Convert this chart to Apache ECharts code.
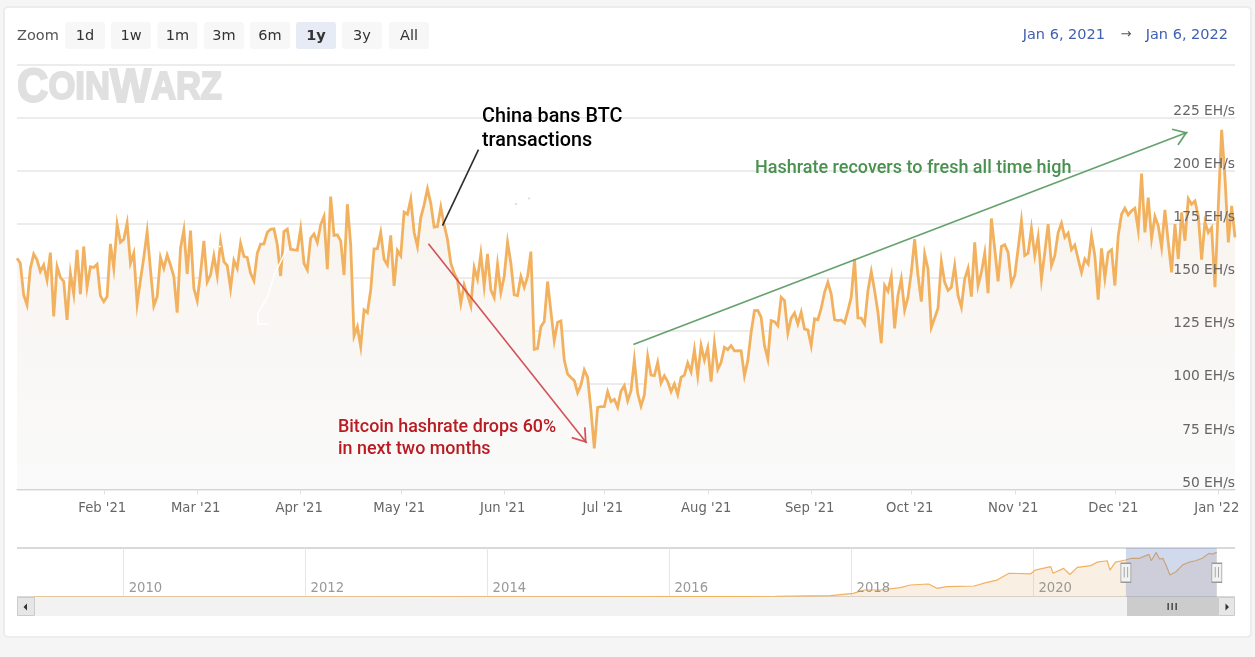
<!DOCTYPE html>
<html><head><meta charset="utf-8">
<style>
html,body{margin:0;padding:0;width:1255px;height:657px;background:#f5f5f5;overflow:hidden}
#card{position:absolute;left:3px;top:6px;width:1245px;height:628px;background:#fff;border:2px solid #ececec;border-radius:5px}
#c{position:absolute;left:0;top:0;width:1255px;height:657px}
</style>
<script src="https://cdn.jsdelivr.net/npm/echarts@6/dist/echarts.min.js"></script>
</head><body><div id="card"></div><div id="c"></div>
<script>
const startDate = '2021-01-06';
const endDate = '2022-01-06';
const hashrate = [
159.0,156.6,141.7,137.0,154.2,160.9,158.2,152.7,155.8,148.7,161.6,131.5,155.0,150.0,148.0,129.9,151.9,142.1,162.9,142.0,
164.5,145.3,155.0,154.6,156.1,141.2,138.5,140.9,165.7,154.2,175.0,166.5,167.9,175.5,156.6,161.3,137.4,148.7,159.4,171.5,
153.5,136.5,140.9,159.3,154.2,160.5,155.8,150.3,133.3,163.7,172.3,151.6,172.0,144.8,139.0,151.9,167.1,147.8,151.1,160.1,
150.8,166.8,157.4,155.5,144.7,157.9,154.2,166.0,159.8,159.3,151.9,148.4,161.3,165.6,165.7,171.2,172.6,172.8,165.3,150.6,
171.5,172.6,163.2,162.9,162.7,172.8,156.6,153.5,168.4,170.4,166.4,174.7,
178.6,153.8,188.0,169.7,170.0,167.1,151.1,184.4,165.3,122.3,126.7,117.3,134.6,133.3,144.0,163.4,163.5,171.1,158.5,155.8,
169.7,145.9,162.6,160.1,180.7,179.7,186.8,171.2,164.5,178.1,184.1,191.7,184.9,173.6,173.9,183.0,174.7,167.9,156.6,151.9,
148.7,137.7,146.4,141.7,136.5,154.6,149.2,161.0,145.9,161.0,144.0,140.4,156.1,142.9,150.3,166.5,156.6,141.7,141.4,150.3,
145.3,150.3,162.1,116.0,116.5,126.7,129.1,148.0,133.8,120.1,128.8,129.4,111.0,104.4,102.8,101.3,95.6,99.2,106.3,102.8,
87.4,69.4,88.7,89.0,89.0,96.1,91.4,92.5,88.7,96.4,98.9,91.8,96.6,111.0,95.3,89.3,
94.5,112.7,103.9,103.6,109.9,100.2,103.6,100.8,96.1,99.7,94.7,102.8,103.9,109.6,105.5,115.9,103.6,117.8,111.0,116.7,
100.8,119.0,106.5,109.9,117.0,115.9,117.8,115.3,115.4,115.3,103.6,110.7,124.1,134.3,134.4,131.1,117.8,111.5,129.6,129.1,
127.2,140.6,139.0,123.7,130.8,133.2,128.0,133.5,125.6,125.2,117.8,130.4,130.0,135.4,142.9,147.6,142.1,130.0,129.6,129.9,
128.5,134.3,140.6,158.6,130.8,130.7,128.0,143.7,152.7,143.7,133.5,118.9,146.1,143.4,150.5,125.9,141.4,149.2,134.6,140.6,
152.4,168.0,150.8,138.5,161.0,153.9,126.4,130.8,135.4,157.4,
147.7,143.8,145.3,155.5,141.4,135.9,149.2,154.2,140.9,166.4,146.1,152.3,161.4,142.5,177.7,163.3,148.1,164.5,165.3,161.7,
146.9,150.8,163.3,176.6,160.2,161.3,173.0,160.2,169.1,149.2,161.7,175.0,155.5,160.2,171.1,175.5,168.8,170.8,163.0,165.2,
158.6,152.3,158.6,156.3,169.5,160.2,139.5,163.6,149.7,161.7,163.0,146.1,169.5,179.7,182.5,179.4,181.3,182.5,
172.3,198.9,171.1,187.5,168.3,178.6,174.2,164.1,181.7,166.4,152.3,175.0,158.6,180.5,167.2,187.0,184.4,185.9,178.9,158.3,
176.1,171.1,173.4,145.3,183.6,219.5,196.9,166.4,183.6,168.8
];
const xTickDates = ['2021-02-01','2021-03-01','2021-04-01','2021-05-01','2021-06-01','2021-07-01','2021-08-01','2021-09-01','2021-10-01','2021-11-01','2021-12-01','2022-01-01'];
const xTickLabels = ["Feb '21","Mar '21","Apr '21","May '21","Jun '21","Jul '21","Aug '21","Sep '21","Oct '21","Nov '21","Dec '21","Jan '22"];
const yTicks = [50,75,100,125,150,175,200,225];
const navDates = ['2009-01-03','2012-01-01','2014-01-01','2015-06-01','2016-06-01','2017-03-01','2017-10-08','2018-01-08','2018-02-20','2018-04-25','2018-07-15','2018-08-25','2018-11-06','2018-12-10','2019-01-18','2019-05-08','2019-06-28','2019-08-08','2019-09-25','2019-12-20','2020-01-08','2020-03-10','2020-03-20','2020-05-01','2020-05-26','2020-06-25','2020-08-18','2020-09-12','2020-10-23','2020-11-03','2020-11-25','2021-01-05','2021-01-28','2021-03-02','2021-03-22','2021-04-09','2021-04-18','2021-05-08','2021-05-21','2021-06-03','2021-06-16','2021-07-02','2021-07-26','2021-08-22','2021-09-17','2021-10-13','2021-11-09','2021-12-05','2021-12-19','2022-01-06'];
const navValues = [0,0.1,0.3,0.6,1.5,3,5.4,15,28.6,28.6,38,49,53,35.4,42,45,60,69,97,94,110,124,97,117,92,121,128,142,148,110,142,151,158,158,167,174,148,182,155,158,131,90,103,131,142,148,158,178,175,182];
const navYearDates = ['2010-01-01','2012-01-01','2014-01-01','2016-01-01','2018-01-01','2020-01-01'];
const navYearLabels = ['2010','2012','2014','2016','2018','2020'];
const zoomButtons = ['1d','1w','1m','3m','6m','1y','3y','All'];
const redArrow = [['2021-05-09T07:00',165.8],['2021-06-25T17:00',71.9]];
const greenArrow = [['2021-07-09T17:00',118.3],['2021-12-22T19:00',218.3]];
const blackLeader = [['2021-05-13T12:00',174.3],['2021-05-24T07:00',210.1]];

const ts = s => new Date(s.length === 10 ? s + 'T00:00' : s).getTime();
const t0 = ts(startDate);
const navMin = ts('2008-10-30'), navMax = ts('2022-03-20');
const mainData = hashrate.map((v, i) => [new Date(2021, 0, 6 + i).getTime(), v]);
const navData = navDates.map((d, i) => [ts(d), navValues[i]]);
const labelMap = {}; xTickDates.forEach((d, i) => labelMap[ts(d)] = xTickLabels[i]);
const yearMap = {}; navYearDates.forEach((d, i) => yearMap[ts(d)] = navYearLabels[i]);
// open arrow head, tip at the symbol centre (the tiny first triangle balances the bounding box)
const chevron = 'path://M0,-14.2 L0.02,-14.2 L0,-14.18 Z M0,0 L11,13 L9.4,14.2 L0,3 L-9.4,14.2 L-11,13 Z';
const FONT = '"DejaVu Sans"';
const arrowLine = (pts, color, head) => ({
  type: 'line', data: [], xAxisIndex: 0, yAxisIndex: 0, z: 10, silent: true,
  markLine: { z: 12, silent: true, animation: false, label: { show: false }, emphasis: { disabled: true },
    lineStyle: { color, width: 1.6, type: 'solid', opacity: 0.95 },
    data: [[{ coord: [ts(pts[0][0]), pts[0][1]], symbol: 'none' },
            { coord: [ts(pts[1][0]), pts[1][1]], symbol: head ? chevron : 'none', symbolSize: [18, 28] }]] }
});

// Zoom buttons
const btnX = [65, 111, 157.5, 204, 250, 296, 342, 389];
const g = [];
g.push({ type: 'text', z: 50, style: { text: 'Zoom', x: 17, y: 36, font: '14.5px ' + FONT, fill: '#555', verticalAlign: 'middle' } });
zoomButtons.forEach((b, i) => {
  const sel = b === '1y';
  g.push({ type: 'rect', z: 50, shape: { x: btnX[i], y: 22, width: 40, height: 27, r: 3 }, style: { fill: sel ? '#e6ebf5' : '#f7f7f7' } });
  g.push({ type: 'text', z: 51, style: { text: b, x: btnX[i] + 20, y: 36, align: 'center', verticalAlign: 'middle', font: (sel ? 'bold ' : '') + '14.5px ' + FONT, fill: '#333' } });
});
g.push({ type: 'text', z: 50, style: { text: 'Jan 6, 2021', x: 1105, y: 35, align: 'right', verticalAlign: 'middle', font: '14.5px ' + FONT, fill: '#3f5fb0' } });
g.push({ type: 'text', z: 50, style: { text: '→', x: 1126, y: 35, align: 'center', verticalAlign: 'middle', font: '13px ' + FONT, fill: '#555' } });
g.push({ type: 'text', z: 50, style: { text: 'Jan 6, 2022', x: 1228, y: 35, align: 'right', verticalAlign: 'middle', font: '14.5px ' + FONT, fill: '#3f5fb0' } });
// Logo
g.push({ type: 'text', z: 2, x: 17, y: 113, scaleX: 0.887, style: {
  x: 0, y: 0, verticalAlign: 'bottom', fill: '#e0e0e0', 
  rich: { a: { font: '900 49px "Liberation Sans"', fill: '#e0e0e0', stroke: '#e0e0e0', lineWidth: 2 }, b: { font: '900 39px "Liberation Sans"', fill: '#e0e0e0', stroke: '#e0e0e0', lineWidth: 2 } },
  text: '{a|C}{b|OIN}{a|W}{b|ARZ}' } });
// Annotation text
g.push({ type: 'text', z: 60, style: { text: 'China bans BTC\ntransactions', x: 482, y: 105, lineHeight: 24, font: '500 19.8px Roboto', fill: '#000' } });
g.push({ type: 'text', z: 60, style: { text: 'Hashrate recovers to fresh all time high', x: 755, y: 159, font: '500 18px Roboto', fill: '#4a9150' } });
g.push({ type: 'text', z: 60, style: { text: 'Bitcoin hashrate drops 60%\nin next two months', x: 338, y: 416, lineHeight: 22.5, font: '500 17.9px Roboto', fill: '#b81c22' } });
// White artefacts over the image
g.push({ type: 'polyline', z: 40, shape: { points: [[268,324],[258,324],[258,313],[267,298],[275,273],[288,247]] }, style: { stroke: '#fff', lineWidth: 1.6, fill: 'none' } });
g.push({ type: 'line', z: 40, shape: { x1: 217, y1: 250, x2: 221, y2: 245 }, style: { stroke: '#fff', lineWidth: 1.5, lineDash: [2, 1.5] } });
g.push({ type: 'circle', z: 40, shape: { cx: 516, cy: 204, r: 1 }, style: { fill: '#e5cfcf' } });
g.push({ type: 'circle', z: 40, shape: { cx: 529, cy: 198.5, r: 1 }, style: { fill: '#e5cfcf' } });
// Scrollbar
g.push({ type: 'rect', z: 30, shape: { x: 17, y: 597, width: 1218, height: 19 }, style: { fill: '#f2f2f2' } });
g.push({ type: 'rect', z: 31, shape: { x: 17.5, y: 597.5, width: 17, height: 18 }, style: { fill: '#e6e6e6', stroke: '#cccccc' } });
g.push({ type: 'rect', z: 31, shape: { x: 1218.5, y: 597.5, width: 16, height: 18 }, style: { fill: '#e6e6e6', stroke: '#cccccc' } });
g.push({ type: 'rect', z: 31, shape: { x: 1127, y: 597, width: 91, height: 19 }, style: { fill: '#cccccc' } });
g.push({ type: 'polygon', z: 32, shape: { points: [[23.5,607],[27,603.5],[27,610.5]] }, style: { fill: '#333' } });
g.push({ type: 'polygon', z: 32, shape: { points: [[1229,607],[1225.5,603.5],[1225.5,610.5]] }, style: { fill: '#333' } });
[1168, 1172, 1176].forEach(x => g.push({ type: 'rect', z: 32, shape: { x: x - 0.5, y: 603, width: 1.3, height: 7 }, style: { fill: '#333' } }));

const option = {
  animation: false,
  backgroundColor: 'transparent',
  graphic: g,
  grid: [
    { left: 17, right: 20, top: 65, height: 424.5, containLabel: false },
    { left: 17, right: 20, top: 548, height: 49, containLabel: false }
  ],
  xAxis: [
    { type: 'value', gridIndex: 0, position: 'bottom', min: t0, max: ts(endDate), scale: true, z: 6,
      axisLine: { show: true, onZero: false, lineStyle: { color: '#ccd6eb', width: 1 } },
      axisTick: { show: true, length: 5, lineStyle: { color: '#e0e0e0' }, customValues: xTickDates.map(ts) },
      splitLine: { show: false },
      axisLabel: { customValues: xTickDates.map(ts), formatter: v => labelMap[v] || '', margin: 13, padding: [0, 3, 0, 0], color: '#666', fontFamily: 'DejaVu Sans', fontSize: 13.2, hideOverlap: false } },
    { type: 'value', gridIndex: 1, position: 'bottom', min: navMin, max: navMax, scale: true,
      axisLine: { show: false, onZero: false },
      axisTick: { show: false, customValues: navYearDates.map(ts) },
      splitLine: { show: true, lineStyle: { color: '#e6e6e6', width: 1 } },
      axisLabel: { show: false, customValues: navYearDates.map(ts) } },
    { type: 'value', gridIndex: 1, position: 'bottom', min: navMin, max: navMax, scale: true, z: 7,
      axisLine: { show: false, onZero: false }, axisTick: { show: false }, splitLine: { show: false },
      axisLabel: { customValues: navYearDates.map(ts), inside: true, align: 'left', formatter: v => yearMap[v] || '', margin: 2, padding: [0, 0, 0, 5], color: '#999', fontFamily: 'DejaVu Sans', fontSize: 13.2, hideOverlap: false } }
  ],
  yAxis: [
    { type: 'value', gridIndex: 0, min: 50, max: 250, interval: 25,
      axisLine: { show: false }, axisTick: { show: false }, axisLabel: { show: false },
      splitLine: { show: true, lineStyle: { color: '#e6e6e6', width: 1.5 } } },
    { type: 'value', gridIndex: 1, min: 0, max: 200, interval: 200,
      axisLine: { show: false }, axisTick: { show: false }, axisLabel: { show: false },
      splitLine: { show: true, lineStyle: { color: '#cccccc', width: 1.5 } } },
    { type: 'value', gridIndex: 0, min: 50, max: 250, interval: 25, position: 'right', z: 20,
      axisLine: { show: false }, axisTick: { show: false }, splitLine: { show: false },
      axisLabel: { inside: true, margin: 0, verticalAlign: 'bottom', lineHeight: 13, color: '#666', fontFamily: 'DejaVu Sans', fontSize: 13.8,
        formatter: v => yTicks.includes(v) ? v + ' EH/s' : '' } }
  ],
  series: [
    { name: 'Hashrate', type: 'line', xAxisIndex: 0, yAxisIndex: 0, data: mainData, symbol: 'none', z: 5,
      lineStyle: { color: '#f2b15e', width: 2.8, join: 'miter' },
      areaStyle: { opacity: 1, color: { type: 'linear', x: 0, y: 0, x2: 0, y2: 1, colorStops: [{ offset: 0, color: '#f8f3ed' }, { offset: 1, color: '#fafafa' }] } } },
    { name: 'Navigator', type: 'line', xAxisIndex: 1, yAxisIndex: 1, data: navData, symbol: 'none', z: 5,
      lineStyle: { color: '#f2b15e', width: 1.2 },
      areaStyle: { opacity: 1, color: 'rgba(225,160,90,0.17)' } },
    { name: 'Range', type: 'line', xAxisIndex: 1, yAxisIndex: 1, data: [], z: 8, silent: true,
      markArea: { z: 8, silent: true, animation: false, itemStyle: { color: 'rgba(102,133,194,0.3)' }, label: { show: false },
        data: [[{ coord: [ts(startDate), 200] }, { coord: [ts(endDate), 0] }]] },
      markPoint: { z: 9, silent: true, animation: false, symbol: 'rect', symbolSize: [10, 19],
        itemStyle: { color: '#f2f2f2', borderColor: '#999999', borderWidth: 1 },
        label: { show: true, formatter: '||', color: '#999', fontSize: 10, position: 'inside', fontFamily: 'DejaVu Sans' },
        data: [{ coord: [ts(startDate), 99] }, { coord: [ts(endDate), 99] }] } },
    arrowLine(redArrow, '#cf4a50', true),
    arrowLine(greenArrow, '#5c9c64', true),
    arrowLine(blackLeader, '#222222', false)
  ]
};
const chart = echarts.init(document.getElementById('c'), null, { renderer: 'canvas' });
chart.setOption(option);
</script></body></html>
